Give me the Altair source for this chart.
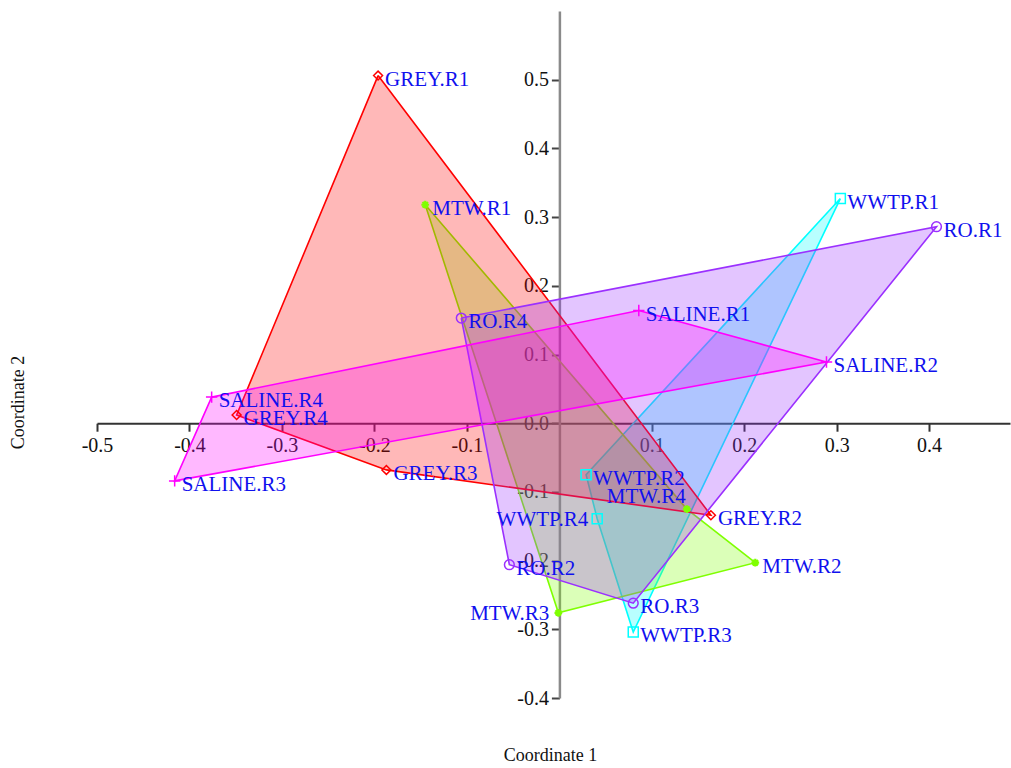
import altair as alt
import pandas as pd

# Ordination scores (Coordinate 1 / Coordinate 2) for replicates R1..R4
replicates = ["R1", "R2", "R3", "R4"]
groups = ["GREY", "SALINE", "MTW", "RO", "WWTP"]

grey_x = [-0.196, 0.164, -0.187, -0.349]
grey_y = [0.506, -0.134, -0.068, 0.012]
saline_x = [0.086, 0.289, -0.416, -0.376]
saline_y = [0.164, 0.089, -0.084, 0.038]
mtw_x = [-0.145, 0.212, -0.001, 0.138]
mtw_y = [0.318, -0.203, -0.276, -0.125]
ro_x = [0.408, -0.054, 0.080, -0.106]
ro_y = [0.286, -0.206, -0.262, 0.153]
wwtp_x = [0.304, 0.029, 0.080, 0.041]
wwtp_y = [0.327, -0.075, -0.304, -0.139]

# Vertex order of each group's outline
outline_order = {
    "GREY": ["R1", "R2", "R3", "R4"],
    "SALINE": ["R4", "R1", "R2", "R3"],
    "MTW": ["R1", "R4", "R2", "R3"],
    "RO": ["R4", "R1", "R3", "R2"],
    "WWTP": ["R1", "R3", "R4", "R2"],
}

coords = {
    "GREY": (grey_x, grey_y),
    "SALINE": (saline_x, saline_y),
    "MTW": (mtw_x, mtw_y),
    "RO": (ro_x, ro_y),
    "WWTP": (wwtp_x, wwtp_y),
}

colors = {
    "GREY": "#ff0000",
    "SALINE": "#ff00ff",
    "MTW": "#7fff00",
    "RO": "#9b30ff",
    "WWTP": "#00ffff",
}

points = []
for g in groups:
    xs, ys = coords[g]
    for r, xv, yv in zip(replicates, xs, ys):
        points.append({"group": g, "name": f"{g}.{r}", "c1": xv, "c2": yv})
points = pd.DataFrame(points)

FONT = "Liberation Serif"

x_enc = alt.X(
    "c1:Q",
    scale=alt.Scale(domain=[-0.5, 0.4875], nice=False, zero=False),
    axis=alt.Axis(
        values=[-0.5, -0.4, -0.3, -0.2, -0.1, 0.1, 0.2, 0.3, 0.4],
        labelExpr="replace(format(datum.value, '.1f'), '\u2212', '-')",
        offset=-274.8, grid=False,
        domainColor="#333333", domainWidth=2,
        tickColor="#333333", tickWidth=2, tickSize=8,
        labelFont=FONT, labelFontSize=20, labelColor="#111111",
        labelPadding=4, labelFlush=False, labelOverlap=False,
        title="Coordinate 1", titleFont=FONT, titleFontSize=18,
        titleFontWeight="normal", titleColor="#111111",
        titleX=453, titleY=332, titleBaseline="middle", titleAlign="center",
    ),
)
y_enc = alt.Y(
    "c2:Q",
    scale=alt.Scale(domain=[-0.4, 0.6], nice=False, zero=False),
    axis=alt.Axis(
        values=[-0.4, -0.3, -0.2, -0.1, 0.0, 0.1, 0.2, 0.3, 0.4, 0.5],
        labelExpr="replace(format(datum.value, '.1f'), '\u2212', '-')",
        offset=-462.4, grid=False,
        domainColor="#8a8a8a", domainWidth=2.5,
        tickColor="#444444", tickWidth=2, tickSize=8,
        labelFont=FONT, labelFontSize=20, labelColor="#111111",
        labelPadding=3, labelFlush=False, labelOverlap=False,
        title="Coordinate 2", titleFont=FONT, titleFontSize=18,
        titleFontWeight="normal", titleColor="#111111",
        titleX=-541, titleY=391, titleBaseline="middle", titleAlign="center",
        titleAngle=270,
    ),
)

layers = []

# Filled outlines, drawn in this stacking order
for g in ["WWTP", "MTW", "GREY", "RO", "SALINE"]:
    xs, ys = coords[g]
    lookup = dict(zip(replicates, zip(xs, ys)))
    seq = outline_order[g] + [outline_order[g][0]]
    poly = pd.DataFrame(
        [{"k": i, "c1": lookup[r][0], "c2": lookup[r][1]} for i, r in enumerate(seq)]
    )
    layers.append(
        alt.Chart(poly)
        .mark_line(stroke=colors[g], fill=colors[g], fillOpacity=0.28,
                   strokeWidth=1.6, strokeOpacity=1)
        .encode(x=x_enc, y=y_enc, order="k:Q")
    )

# Markers per group
PLUS = "M-1,0H1M0,-1V1"
ASTERISK = "M-1,0H1M0,-1V1M-0.7,-0.7L0.7,0.7M-0.7,0.7L0.7,-0.7"
marker_style = {
    "GREY": dict(shape="diamond", size=80, filled=False, strokeWidth=1.5),
    "SALINE": dict(shape=PLUS, size=130, filled=False, strokeWidth=1.5),
    "MTW": dict(shape=ASTERISK, size=60, filled=False, strokeWidth=2.2),
    "RO": dict(shape="circle", size=95, filled=False, strokeWidth=1.5),
    "WWTP": dict(shape="square", size=100, filled=False, strokeWidth=1.5),
}
for g in groups:
    layers.append(
        alt.Chart(points)
        .transform_filter(alt.datum.group == g)
        .mark_point(color=colors[g], opacity=1, **marker_style[g])
        .encode(x=x_enc, y=y_enc)
    )

# Point labels: most sit to the right of their marker
left_placed = ["WWTP.R4", "MTW.R3"]
above_placed = ["MTW.R4"]
special = left_placed + above_placed
text_style = dict(font=FONT, fontSize=21, color="#1010ee", baseline="middle")

layers.append(
    alt.Chart(points)
    .transform_filter(~alt.FieldOneOfPredicate(field="name", oneOf=special))
    .mark_text(align="left", dx=7, dy=4, **text_style)
    .encode(x=x_enc, y=y_enc, text="name:N")
)
layers.append(
    alt.Chart(points)
    .transform_filter(alt.FieldOneOfPredicate(field="name", oneOf=left_placed))
    .mark_text(align="right", dx=-9, dy=1, **text_style)
    .encode(x=x_enc, y=y_enc, text="name:N")
)
layers.append(
    alt.Chart(points)
    .transform_filter(alt.FieldOneOfPredicate(field="name", oneOf=above_placed))
    .mark_text(align="right", dx=-1, dy=-12, **text_style)
    .encode(x=x_enc, y=y_enc, text="name:N")
)

chart = (
    alt.layer(*layers)
    .properties(
        width=913,
        height=687,
        padding={"left": 97, "top": 11, "right": 1, "bottom": 70},
        autosize=alt.AutoSizeParams(type="none"),
        background="white",
    )
    .configure_view(stroke=None)
)

chart.save("out.html", embed_options={"renderer": "svg", "actions": False})
